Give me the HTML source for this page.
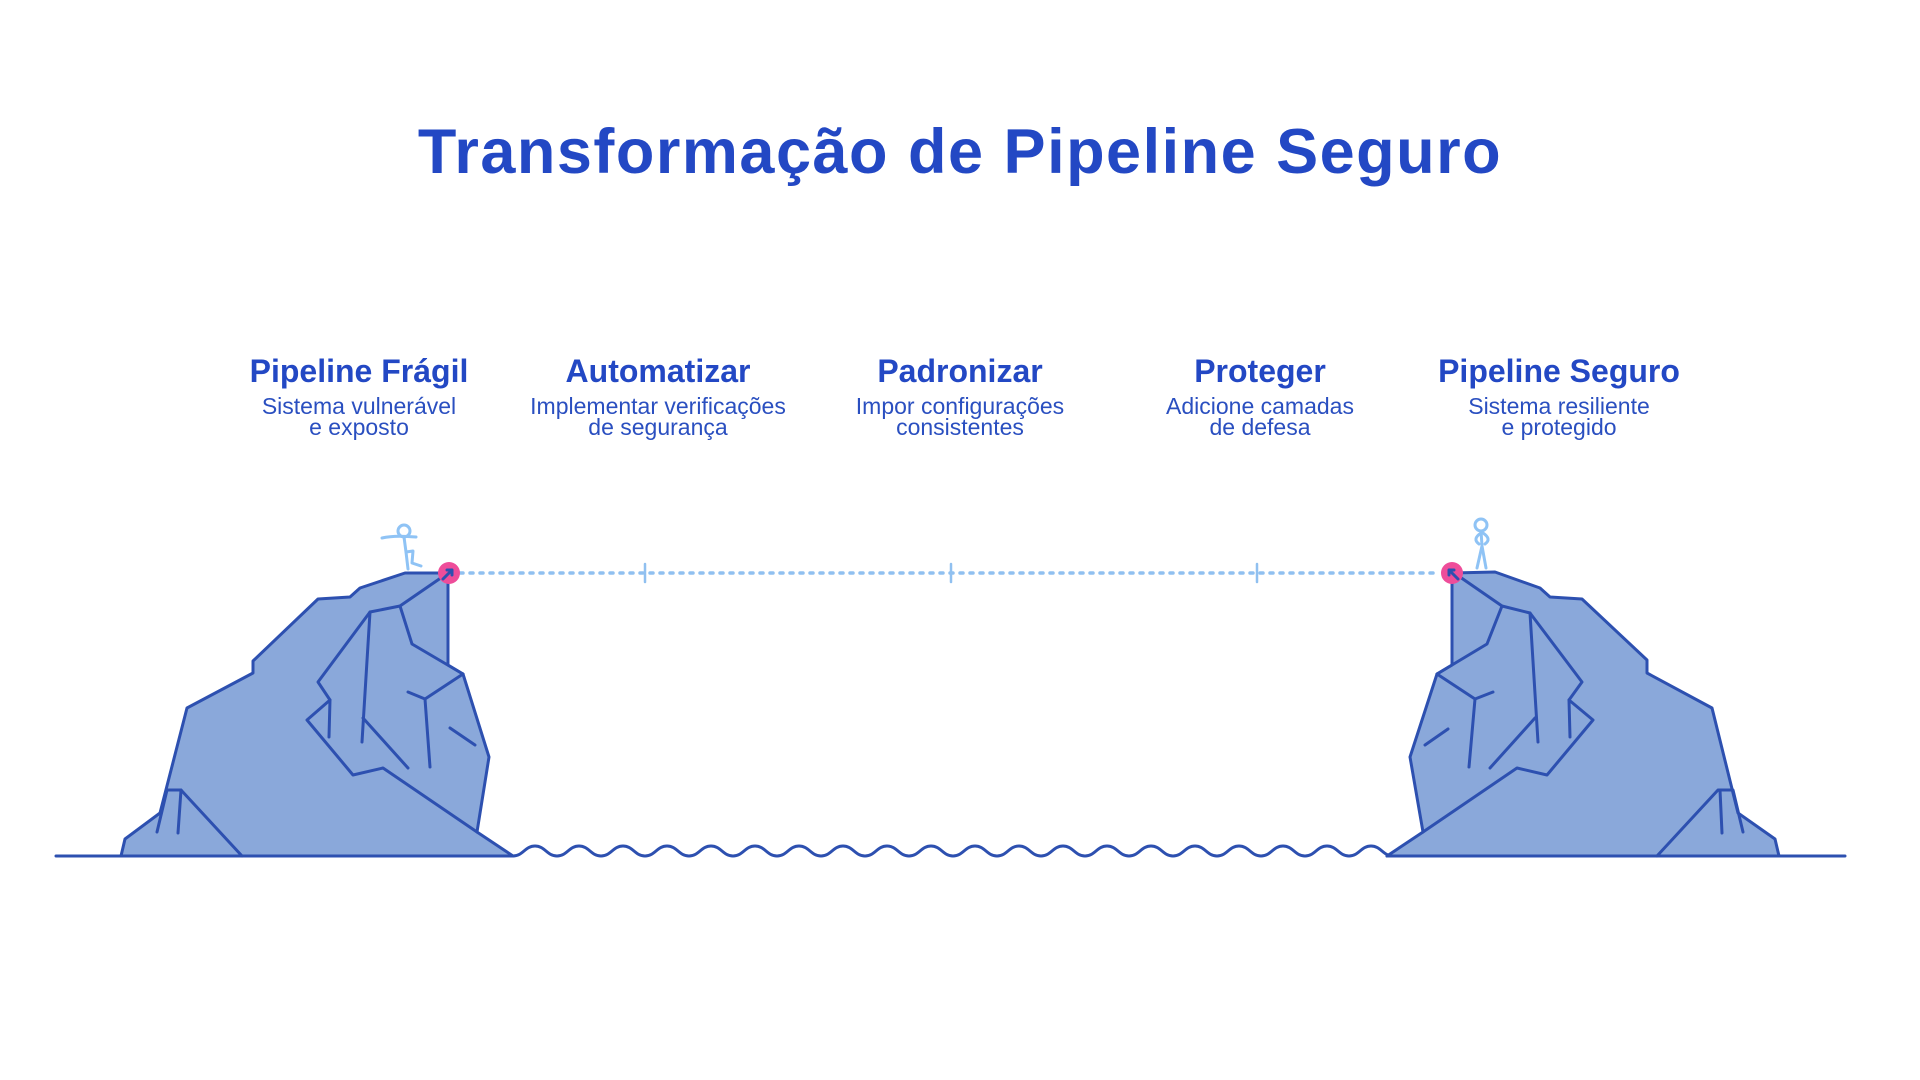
<!DOCTYPE html>
<html><head><meta charset="utf-8"><style>
html,body{margin:0;padding:0;background:#fff;width:1920px;height:1080px;overflow:hidden}
body{position:relative;font-family:"Liberation Sans",sans-serif;color:#2449c0}
.t{position:absolute;left:0;width:1920px;top:116px;text-align:center;font-size:63px;font-weight:bold;color:#2348c4;letter-spacing:1.5px}
.c{position:absolute;width:360px;margin-left:-180px;text-align:center;top:350px}
.c h3{margin:0;font-size:32px;font-weight:bold;line-height:42px;color:#2348c4}
.c p{margin:4px 0 0;font-size:23px;line-height:21px;color:#2a4fc0}
</style></head><body>
<div class="t">Transformação de Pipeline Seguro</div>
<div class="c" style="left:359px"><h3>Pipeline Frágil</h3><p>Sistema vulnerável<br>e exposto</p></div>
<div class="c" style="left:658px"><h3>Automatizar</h3><p>Implementar verificações<br>de segurança</p></div>
<div class="c" style="left:960px"><h3>Padronizar</h3><p>Impor configurações<br>consistentes</p></div>
<div class="c" style="left:1260px"><h3>Proteger</h3><p>Adicione camadas<br>de defesa</p></div>
<div class="c" style="left:1559px"><h3>Pipeline Seguro</h3><p>Sistema resiliente<br>e protegido</p></div>
<svg width="1920" height="1080" style="position:absolute;left:0;top:0" fill="none" stroke-linecap="round" stroke-linejoin="round">
<g stroke="#2d50b0" stroke-width="3">
<path fill="#8aa8da" d="M121,856 L125,839 L160,813 L187,708 L253,673 L253,661 L318,599 L350,597 L360,588 L405,573 L448,573 L448,665 L463,674 L489,757 L477,832 L513,856 Z"/>
<path d="M448,573 L400,606 L370,612 L318,682 L330,700 L307,720 L353,775 L383,768 L477,832"/>
<path d="M400,606 L412,644 L463,674"/>
<path d="M370,612 L362,742"/>
<path d="M330,700 L329,737"/>
<path d="M363,718 L408,768"/>
<path d="M408,692 L425,699 L430,767"/>
<path d="M425,699 L463,674"/>
<path d="M450,728 L475,745"/>
<path d="M167,790 L181,790 L242,856"/>
<path d="M181,790 L178,833"/>
<path d="M167,790 L157,832"/>
<path fill="#8aa8da" d="M1387,856 L1423,832 L1410,757 L1437,674 L1452,665 L1452,573 L1495,572 L1540,588 L1550,597 L1582,599 L1647,660 L1647,673 L1712,708 L1738,813 L1775,839 L1779,856 Z"/>
<path d="M1460,577 L1502,606 L1530,613 L1582,682 L1569,700 L1593,720 L1547,775 L1517,768 L1423,832"/>
<path d="M1502,606 L1487,644 L1437,674"/>
<path d="M1530,613 L1538,742"/>
<path d="M1569,700 L1570,737"/>
<path d="M1535,718 L1490,768"/>
<path d="M1437,674 L1475,699 L1469,767"/>
<path d="M1475,699 L1493,692"/>
<path d="M1448,729 L1425,745"/>
<path d="M1657,856 L1718,790 L1733,790 L1743,832"/>
<path d="M1720,790 L1722,833"/>
<path d="M56,856 L513,856"/>
<path d="M1387,856 L1845,856"/>
<path d="M513,856 c10,0 12,-10 22,-10 c10,0 12,10 22,10 c10,0 12,-10 22,-10 c10,0 12,10 22,10 c10,0 12,-10 22,-10 c10,0 12,10 22,10 c10,0 12,-10 22,-10 c10,0 12,10 22,10 c10,0 12,-10 22,-10 c10,0 12,10 22,10 c10,0 12,-10 22,-10 c10,0 12,10 22,10 c10,0 12,-10 22,-10 c10,0 12,10 22,10 c10,0 12,-10 22,-10 c10,0 12,10 22,10 c10,0 12,-10 22,-10 c10,0 12,10 22,10 c10,0 12,-10 22,-10 c10,0 12,10 22,10 c10,0 12,-10 22,-10 c10,0 12,10 22,10 c10,0 12,-10 22,-10 c10,0 12,10 22,10 c10,0 12,-10 22,-10 c10,0 12,10 22,10 c10,0 12,-10 22,-10 c10,0 12,10 22,10 c10,0 12,-10 22,-10 c10,0 12,10 22,10 c10,0 12,-10 22,-10 c10,0 12,10 22,10 c10,0 12,-10 22,-10 c10,0 12,10 22,10 c10,0 12,-10 22,-10 c10,0 12,10 22,10 c10,0 12,-10 22,-10 c10,0 12,10 22,10 c10,0 12,-10 22,-10 c10,0 12,10 22,10 L1387,856"/>
</g>
<path d="M460,573 L1440,573" stroke="#90c0f0" stroke-width="3.5" stroke-dasharray="3,7"/>
<g stroke="#90c0f0" stroke-width="2.5">
<path d="M645,564 V582"/><path d="M951,564 V582"/><path d="M1257,564 V582"/>
</g>
<g stroke="#8fc3f5" stroke-width="3">
<circle cx="404" cy="531" r="6"/>
<path d="M404,537 L406,552 L408,569"/>
<path d="M382,538 Q394,535 416,537"/>
<path d="M406,552 L413,551 L412,563 L421,566"/>
<circle cx="1481" cy="525" r="6"/>
<path d="M1481,531 L1482,546 L1477,568"/>
<path d="M1482,546 L1486,568"/>
<path d="M1481,533 Q1472,539 1479,544 M1483,533 Q1492,539 1485,544"/>
</g>
<circle cx="449" cy="573" r="11" fill="#ee4d9a"/>
<circle cx="1452" cy="573" r="11" fill="#ee4d9a"/>
<path d="M443,579 L452,570 M447,570 H452 V575" stroke="#2d50b0" stroke-width="3"/>
<path d="M1458,579 L1449,570 M1454,570 H1449 V575" stroke="#2d50b0" stroke-width="3"/>
</svg>
</body></html>
